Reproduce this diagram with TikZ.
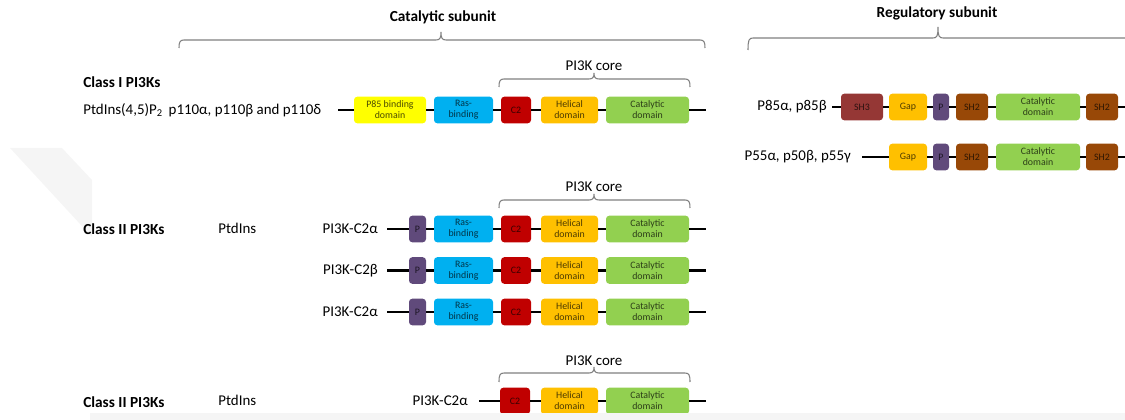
\documentclass[tikz,border=0pt]{standalone}
\usepackage{fontspec}
\setmainfont{Carlito}
\definecolor{cYel}{HTML}{FFFF00}
\definecolor{cRas}{HTML}{00B0F0}
\definecolor{cC2}{HTML}{C00000}
\definecolor{cHel}{HTML}{FFC000}
\definecolor{cCat}{HTML}{92D050}
\definecolor{cP}{HTML}{604A7B}
\definecolor{cSH2}{HTML}{984807}
\definecolor{cSH3}{HTML}{953735}
\definecolor{cBr}{HTML}{808080}
\definecolor{cWm}{HTML}{F5F5F5}
\newcommand\mybrace[6]{%
 \draw[brc] (#1,{#4+#5}) .. controls (#1,{#4+2}) and ({#1+1},#4) .. ({#1+5},#4) -- ({#3-5},#4) .. controls ({#3-1},#4) and (#3,{#4-2}) .. (#3,{#4-#6}) .. controls (#3,{#4-2}) and ({#3+1},#4) .. ({#3+5},#4) -- ({#2-5},#4) .. controls ({#2-1},#4) and (#2,{#4+2}) .. (#2,{#4+#5});}
\begin{document}
\begin{tikzpicture}[x=0.75pt,y=-0.75pt,
 dom/.style={rounded corners=2.5pt, minimum height=20pt, inner sep=0pt, align=center, font=\fontsize{7.4}{8.4}\selectfont},
 dw/.style={minimum width=#1*0.75pt},
 col/.style={fill=#1, text=#1!30!black},
 ln/.style={line width=1.9pt, black},
 brc/.style={draw=cBr, line width=0.8pt},
 lbl/.style={font=\fontsize{11.2}{13}\selectfont, inner sep=0pt},
 hdr/.style={font=\bfseries\fontsize{11.5}{14}\selectfont, inner sep=0pt}]
\useasboundingbox (0,0) rectangle (1125,420);
% watermark
\fill[cWm] (10,148) -- (62,148) -- (92,180) -- (92,237) -- cycle;

% headers and braces
\node[hdr] (hcat) at (443,17) {Catalytic subunit};
\node[hdr] (hreg) at (937,13) {Regulatory subunit};
\mybrace{179}{705}{441}{40}{8}{8}
\mybrace{748}{1131}{938}{38}{12}{11}

% Class I
\node[hdr, anchor=west] (c1) at (83,82) {Class I PI3Ks};
\node[lbl] (core1) at (594,66) {PI3K core};
\mybrace{499}{690}{594}{79}{8}{6}
\node[lbl, anchor=west] (la) at (83,110) {PtdIns(4,5)P\textsubscript{2}\,\ p110α, p110β and p110δ};
\node[dom,dw=72,col=cYel] (a1) at (390,110) {P85 binding\\domain};
\node[dom,dw=59,col=cRas] (a2) at (463.5,110) {Ras-\\binding};
\node[dom,dw=30,col=cC2] (a3) at (516,110) {C2};
\node[dom,dw=57,col=cHel] (a4) at (569.5,110) {Helical\\domain};
\node[dom,dw=83,col=cCat] (a5) at (647.5,110) {Catalytic\\domain};
\coordinate (a0) at (338,110); \coordinate (a6) at (706,110);
\draw[ln] (a0) -- (a1.west) (a1.east) -- (a2.west) (a2.east) -- (a3.west) (a3.east) -- (a4.west) (a4.east) -- (a5.west) (a5.east) -- (a6);

% Class II
\node[hdr, anchor=west] (c2) at (83,229) {Class II PI3Ks};
\node[lbl, anchor=west] (p2) at (218,228) {PtdIns};
\node[lbl] (core2) at (594,187) {PI3K core};
\mybrace{499}{690}{594}{200}{8}{6}
\foreach \r/\y/\t in {b/229/PI3K-C2α, c/270.5/PI3K-C2β, d/312/PI3K-C2α}{
 \node[lbl, anchor=east] (\r l) at (378,\y) {\t};
 \node[dom,dw=17,col=cP] (\r1) at (417.5,\y) {P};
 \node[dom,dw=59,col=cRas] (\r2) at (463.5,\y) {Ras-\\binding};
 \node[dom,dw=30,col=cC2] (\r3) at (516,\y) {C2};
 \node[dom,dw=57,col=cHel] (\r4) at (569.5,\y) {Helical\\domain};
 \node[dom,dw=83,col=cCat] (\r5) at (647.5,\y) {Catalytic\\domain};
 \coordinate (\r0) at (387,\y); \coordinate (\r6) at (706,\y);
 \draw[ln] (\r0) -- (\r1.west) (\r1.east) -- (\r2.west) (\r2.east) -- (\r3.west) (\r3.east) -- (\r4.west) (\r4.east) -- (\r5.west) (\r5.east) -- (\r6);
}

% Class II bottom
\node[hdr, anchor=west] (c3) at (83,402) {Class II PI3Ks};
\node[lbl, anchor=west] (p3) at (218,400) {PtdIns};
\node[lbl] (core3) at (594,361) {PI3K core};
\mybrace{499}{690}{594}{373}{9}{6}
\node[lbl, anchor=east] (el) at (468,401) {PI3K-C2α};
\node[dom,dw=30,col=cC2] (e3) at (515,401) {C2};
\node[dom,dw=57,col=cHel] (e4) at (569.5,401) {Helical\\domain};
\node[dom,dw=83,col=cCat] (e5) at (647.5,401) {Catalytic\\domain};
\coordinate (e0) at (479,401); \coordinate (e6) at (706,401);
\draw[ln] (e0) -- (e3.west) (e3.east) -- (e4.west) (e4.east) -- (e5.west) (e5.east) -- (e6);

% Regulatory rows
\node[lbl, anchor=east] (fl) at (827,107) {P85α, p85β};
\node[dom,dw=42,col=cSH3] (f1) at (862,107) {SH3};
\node[dom,dw=38,col=cHel] (f2) at (908,107) {Gap};
\node[dom,dw=16,col=cP] (f3) at (941,107) {P};
\node[dom,dw=32,col=cSH2] (f4) at (972,107) {SH2};
\node[dom,dw=84,col=cCat] (f5) at (1038,107) {Catalytic\\domain};
\node[dom,dw=32,col=cSH2] (f6) at (1102,107) {SH2};
\coordinate (f0) at (832,107); \coordinate (f7) at (1125,107);
\draw[ln] (f0) -- (f1.west) (f1.east) -- (f2.west) (f2.east) -- (f3.west) (f3.east) -- (f4.west) (f4.east) -- (f5.west) (f5.east) -- (f6.west) (f6.east) -- (f7);

\node[lbl, anchor=east] (gl) at (851,157) {P55α, p50β, p55γ};
\node[dom,dw=38,col=cHel] (g2) at (908,157) {Gap};
\node[dom,dw=16,col=cP] (g3) at (941,157) {P};
\node[dom,dw=32,col=cSH2] (g4) at (972,157) {SH2};
\node[dom,dw=84,col=cCat] (g5) at (1038,157) {Catalytic\\domain};
\node[dom,dw=32,col=cSH2] (g6) at (1102,157) {SH2};
\coordinate (g0) at (862,157); \coordinate (g7) at (1125,157);
\draw[ln] (g0) -- (g2.west) (g2.east) -- (g3.west) (g3.east) -- (g4.west) (g4.east) -- (g5.west) (g5.east) -- (g6.west) (g6.east) -- (g7);

% bottom watermark band
\fill[cWm] (90,413) rectangle (1125,420);
\end{tikzpicture}
\end{document}
